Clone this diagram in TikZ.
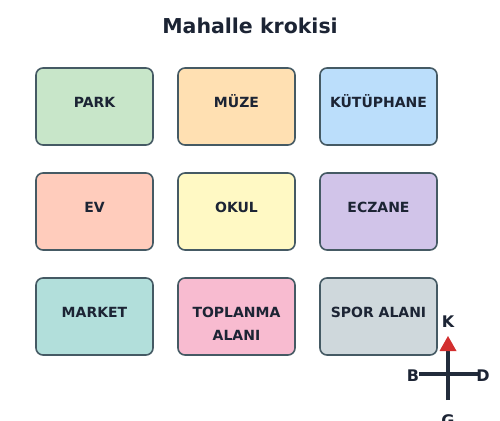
\documentclass[tikz,border=0pt]{standalone}
\usepackage{fontspec}
\setmainfont{DejaVu Sans}
\definecolor{ink}{HTML}{1C2434}
\definecolor{edge}{HTML}{455A64}
\definecolor{rose}{HTML}{D32F2F}
\definecolor{cpark}{HTML}{C8E6C9}
\definecolor{cmuze}{HTML}{FFE0B2}
\definecolor{ckutup}{HTML}{BBDEFB}
\definecolor{cev}{HTML}{FFCCBC}
\definecolor{cokul}{HTML}{FFF9C4}
\definecolor{ceczane}{HTML}{D1C4E9}
\definecolor{cmarket}{HTML}{B2DFDB}
\definecolor{ctopla}{HTML}{F8BBD0}
\definecolor{cspor}{HTML}{CFD8DC}
\tikzset{
    place/.style={draw=edge, line width=1.6pt, rounded corners=7pt, minimum width=117pt,
        minimum height=77pt, align=center, text=ink, inner sep=0pt, text height=10.4pt, text depth=9pt,
        font=\fontsize{14}{23.5}\selectfont\bfseries},
    twoline/.style={text height=57.4pt},
    dir/.style={text=ink, font=\fontsize{16}{18}\selectfont\bfseries},
    arm/.style={draw=ink!85!edge, line width=4pt}
}
\begin{document}
\begin{tikzpicture}[x=1pt,y=-1pt]
    \useasboundingbox (0,0) rectangle (500,420);

    \node (title) at (250,26) [text=ink, font=\fontsize{20.5}{22}\selectfont\bfseries] {Mahalle krokisi};

    \node (park)    at (94.5,106.5)  [place, fill=cpark]   {PARK};
    \node (muze)    at (236.5,106.5) [place, fill=cmuze]   {MÜZE};
    \node (kutup)   at (378.5,106.5) [place, fill=ckutup]  {KÜTÜPHANE};
    \node (ev)      at (94.5,211.5)  [place, fill=cev]     {EV};
    \node (okul)    at (236.5,211.5) [place, fill=cokul]   {OKUL};
    \node (eczane)  at (378.5,211.5) [place, fill=ceczane] {ECZANE};
    \node (market)  at (94.5,316.5)  [place, fill=cmarket] {MARKET};
    \node (topla)   at (236.5,316.5) [place, twoline, fill=ctopla] {TOPLANMA\\ALANI};
    \node (spor)    at (378.5,316.5) [place, fill=cspor]   {SPOR ALANI};

    \coordinate (mid) at (448,374);
    \coordinate (south) at (448,400);
    \coordinate (north) at (448,350);
    \coordinate (west) at (419,374);
    \coordinate (east) at (478,374);
    \draw[arm] (south) -- (north);
    \draw[arm] (west) -- (east);
    \fill[rose] (439.5,351) -- (456.5,351) -- (448,336) -- cycle;

    \node (k) at (448,322) [dir] {K};
    \node (b) at (413,376) [dir] {B};
    \node (d) at (483,376) [dir] {D};
    \node (g) at (448,421) [dir] {G};
\end{tikzpicture}
\end{document}
